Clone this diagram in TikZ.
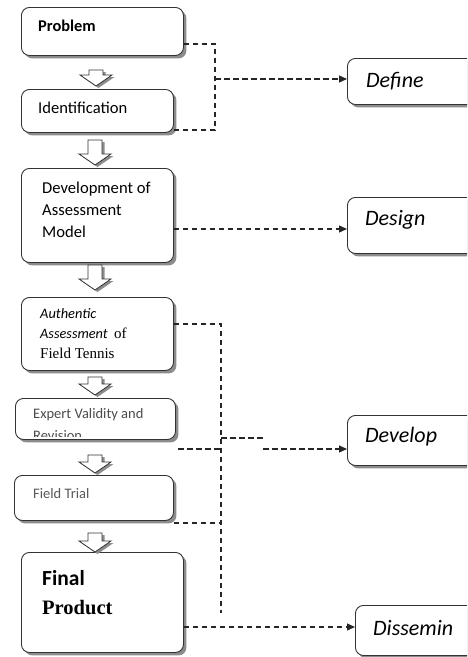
\documentclass[tikz,border=0pt]{standalone}
\usepackage{fontspec}
\setmainfont{Liberation Serif}
\newfontfamily\calfont{Carlito}
\usetikzlibrary{shadows,arrows.meta}
\newcommand{\blockarr}[3]{% x, ytop, ybottom
  \draw[barrow] ({#1-7},#2) -- ({#1+7},#2) -- ({#1+7},{#3-11}) -- ({#1+16},{#3-11}) -- (#1,#3)
     -- ({#1-16},{#3-11}) -- ({#1-7},{#3-11}) -- cycle;}
\begin{document}
\begin{tikzpicture}[x=1pt,y=-1pt,
  shadowed/.style={drop shadow={shadow xshift=3pt,shadow yshift=-3pt,fill=black!45,opacity=1}},
  box/.style={draw=black!80,line width=0.9pt,rounded corners=8pt,fill=white,shadowed,anchor=north west,inner sep=0pt},
  txt/.style={anchor=west,inner sep=0pt,align=left},
  barrow/.style={draw=black!80,line width=0.8pt,fill=white,line join=miter,
     drop shadow={shadow xshift=2.5pt,shadow yshift=-2pt,fill=black!45,opacity=1}},
  dl/.style={draw=black!85,line width=1.2pt,dash pattern=on 5.5pt off 3.5pt},
  tip/.style={-{Triangle[length=8pt,width=7pt]}}
]
\clip (0,0) rectangle (467,657);
% left boxes
\node[box,minimum width=162pt,minimum height=48pt] (prob) at (21,7) {};
\node[box,minimum width=152pt,minimum height=43pt] (ident) at (21,89) {};
\node[box,minimum width=152pt,minimum height=94pt] (devm) at (21,168) {};
\node[box,minimum width=152pt,minimum height=73pt] (auth) at (21,297) {};
\node[box,minimum width=160pt,minimum height=41pt] (expert) at (15,398) {};
\node[box,minimum width=159pt,minimum height=45pt] (ftrial) at (14,475) {};
\node[box,minimum width=162pt,minimum height=100pt] (fprod) at (21,552) {};
% right boxes
\node[box,minimum width=140pt,minimum height=46pt] (define) at (347,58) {};
\node[box,minimum width=140pt,minimum height=56pt] (design) at (347,197) {};
\node[box,minimum width=140pt,minimum height=50pt] (develop) at (347,415) {};
\node[box,minimum width=140pt,minimum height=50pt] (dissem) at (355,605) {};
% texts
\node[txt,font=\calfont\bfseries\fontsize{16.4}{18}\selectfont] (probT) at (38,26) {Problem};
\node[txt,font=\calfont\fontsize{16.6}{18}\selectfont] (identT) at (38,108) {Identification};
\node[txt,font=\calfont\fontsize{16.6}{22}\selectfont] (devmT) at (42,210) {Development of\\Assessment\\Model};
\node[txt,font=\calfont\itshape\fontsize{14.4}{16}\selectfont] (authT1) at (40,314) {Authentic};
\node[txt] (authT2) at (40,333) {\calfont\itshape\fontsize{14.3}{16}\selectfont Assessment\ \ \normalfont\fontsize{15}{18}\selectfont of};
\node[txt,font=\fontsize{15}{18}\selectfont] (authT3) at (40,353) {Field Tennis};
\node[txt,font=\calfont\fontsize{14.5}{16}\selectfont,text=black!70] (expT) at (33,415) {Expert Validity and};
\begin{scope}
\clip (15,398) rectangle (175,436);
\node[anchor=base west,inner sep=0pt,font=\calfont\fontsize{14.5}{16}\selectfont,text=black!70] (revT) at (33,440) {Revision};
\end{scope}
\node[txt,font=\calfont\fontsize{14.5}{16}\selectfont,text=black!65] (ftT) at (33,494) {Field Trial};
\node[txt,font=\calfont\bfseries\fontsize{21.5}{24}\selectfont] (fpT1) at (42,578) {Final};
\node[txt,font=\bfseries\fontsize{20.5}{24}\selectfont] (fpT2) at (42,608) {Product};
\node[txt,font=\calfont\itshape\fontsize{22}{24}\selectfont] (defineT) at (366,81) {Define};
\node[txt,font=\calfont\itshape\fontsize{22}{24}\selectfont] (designT) at (365,220) {Design};
\node[txt,font=\calfont\itshape\fontsize{22}{24}\selectfont] (developT) at (365,437) {Develop};
\node[txt,font=\calfont\itshape\fontsize{22}{24}\selectfont] (dissemT) at (373,628) {Dissemin};
% block arrows
\blockarr{96}{70}{86}
\blockarr{95}{140}{165}
\blockarr{95}{265}{290}
\blockarr{95}{377}{395}
\blockarr{95}{455}{473}
\blockarr{95}{533}{552}
% dashed connectors
\coordinate (jdef) at (215,79);
\coordinate (jdev) at (221,613);
\coordinate (jx) at (263,449);
\draw[dl] (prob.east |- 0,44) -| (215,130) -- (ident.east |- 0,130);
\draw[dl,tip] (jdef) -- (define.west |- jdef);
\draw[dl,tip] (devm.east |- 0,229) -- (design.west |- 0,229);
\draw[dl] (auth.east |- 0,324) -| (jdev);
\draw[dl] (178,449) -- (221,449);
\draw[dl] (221,438) -- (263,438);
\draw[dl,tip] (jx) -- (develop.west |- jx);
\draw[dl] (ftrial.east |- 0,523) -- (221,523);
\draw[dl,tip] (fprod.east |- 0,627) -- (dissem.west |- 0,627);
\end{tikzpicture}
\end{document}
